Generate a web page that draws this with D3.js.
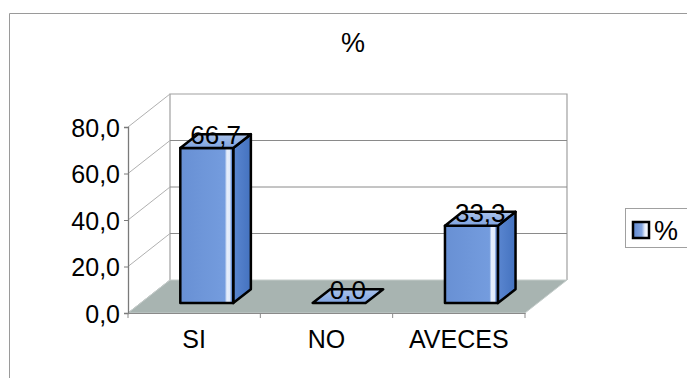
<!DOCTYPE html>
<html>
<head>
<meta charset="utf-8">
<script src="https://cdn.jsdelivr.net/npm/d3@7"></script>
<style>
  html, body { margin: 0; padding: 0; background: #fff; }
  svg { display: block; font-family: "Liberation Sans", Arial, sans-serif; }
</style>
</head>
<body>
<svg id="chart" width="687" height="378"></svg>
<script>
const categories = ["SI", "NO", "AVECES"];
const values = [66.7, 0.0, 33.3];
const yTicks = [0, 20, 40, 60, 80];
const seriesName = "%";
const chartTitle = "%";

const svg = d3.select("#chart");
const fmt = v => d3.format(".1f")(v).replace(".", ",");

const y = d3.scaleLinear().domain([0, 80]).range([313, 127]);
const x = d3.scaleBand().domain(categories).range([128, 525])
  .paddingInner(0.6).paddingOuter(0.3);
const D = { dx: 42, dy: -33 };           // full depth of the 3D box
const f0 = 0.3, f1 = 0.72;               // bar depth start / end fractions

// gradients
const defs = svg.append("defs");
const gFront = defs.append("linearGradient").attr("id", "gFront");
[["0%", "#6890d4"], ["84%", "#749cde"], ["88%", "#e6eefb"], ["94%", "#dfe9fa"], ["96%", "#6f95d8"]]
  .forEach(s => gFront.append("stop").attr("offset", s[0]).attr("stop-color", s[1]));
const gSide = defs.append("linearGradient").attr("id", "gSide");
[["0%", "#5a86d0"], ["100%", "#4472bf"]]
  .forEach(s => gSide.append("stop").attr("offset", s[0]).attr("stop-color", s[1]));
const gTop = defs.append("linearGradient").attr("id", "gTop").attr("x1", 0).attr("y1", 1).attr("x2", 0).attr("y2", 0);
[["0%", "#7fa3e0"], ["100%", "#a9c2ea"]]
  .forEach(s => gTop.append("stop").attr("offset", s[0]).attr("stop-color", s[1]));
const gLeg = defs.append("linearGradient").attr("id", "gLeg");
[["0%", "#5f87cf"], ["55%", "#86a7e0"], ["75%", "#e8eefa"], ["100%", "#ffffff"]]
  .forEach(s => gLeg.append("stop").attr("offset", s[0]).attr("stop-color", s[1]));

// outer chart border
svg.append("path").attr("d", "M9.5,378 L9.5,13.5 L687,13.5")
  .attr("fill", "none").attr("stroke", "#9a9a9a").attr("stroke-width", 1);

// title
svg.append("text").attr("x", 353).attr("y", 52).attr("text-anchor", "middle")
  .attr("font-size", 27).attr("fill", "#000").text(chartTitle);

const x0 = x.range()[0], x1 = x.range()[1];
const yTop = y(80), yBase = y(0);

// back wall and side wall
svg.append("path")
  .attr("d", `M${x0 + D.dx},${yBase + D.dy} L${x0 + D.dx},${yTop + D.dy} L${x1 + D.dx},${yTop + D.dy} L${x1 + D.dx},${yBase + D.dy}`)
  .attr("fill", "#fff").attr("stroke", "#a0a0a0").attr("stroke-width", 1.2);

const grid = svg.append("g").attr("stroke", "#8a8a8a").attr("stroke-width", 1).attr("fill", "none");
yTicks.forEach(t => {
  grid.append("line").attr("x1", x0).attr("y1", y(t)).attr("x2", x0 + D.dx).attr("y2", y(t) + D.dy)
    .attr("stroke", "#b0b0b0");
  if (t > 0 && t < 80) {
    grid.append("line").attr("x1", x0 + D.dx).attr("y1", y(t) + D.dy).attr("x2", x1 + D.dx).attr("y2", y(t) + D.dy);
  }
});

// floor
svg.append("path")
  .attr("d", `M${x0},${yBase} L${x1},${yBase} L${x1 + D.dx},${yBase + D.dy} L${x0 + D.dx},${yBase + D.dy} Z`)
  .attr("fill", "#a8b4b1").attr("stroke", "#c4ccca").attr("stroke-width", 1);

// y axis
const yAxis = svg.append("g").attr("transform", `translate(${x0},0)`)
  .call(d3.axisLeft(y).tickValues(yTicks).tickFormat(fmt).tickSize(4).tickPadding(4));
yAxis.select(".domain").attr("stroke", "#7a7a7a").attr("stroke-width", 1.3);
yAxis.selectAll(".tick line").attr("stroke", "#7a7a7a");
yAxis.selectAll(".tick text").attr("font-size", 25).attr("fill", "#000")
  .attr("font-family", "'Liberation Sans', Arial, sans-serif").attr("dy", "0.36em");

// x axis
const xAxis = svg.append("g").attr("transform", `translate(0,${yBase})`)
  .call(d3.axisBottom(x).tickSize(0).tickPadding(0));
xAxis.select(".domain").attr("stroke", "#8a8a8a").attr("stroke-width", 1.2);
xAxis.selectAll(".tick text").attr("font-size", 25).attr("fill", "#000")
  .attr("font-family", "'Liberation Sans', Arial, sans-serif").attr("y", 35).attr("dy", 0);
const step = (x1 - x0) / categories.length;
d3.range(categories.length + 1).forEach(i => {
  xAxis.append("line").attr("x1", x0 + i * step).attr("x2", x0 + i * step)
    .attr("y1", 0).attr("y2", 5).attr("stroke", "#8a8a8a");
});

// bars
const bars = svg.append("g");
const fdx = D.dx * f0, fdy = D.dy * f0;
const bdx = D.dx * (f1 - f0), bdy = D.dy * (f1 - f0);
categories.forEach((c, i) => {
  const v = values[i];
  const bx0 = x(c) + fdx, bx1 = bx0 + x.bandwidth();
  const yt = y(v) + fdy, yb = y(0) + fdy;
  const g = bars.append("g").attr("stroke", "#000").attr("stroke-width", 2.5).attr("stroke-linejoin", "round");
  if (yb - yt > 0.5) {
    g.append("path").attr("d", `M${bx1},${yt} L${bx1 + bdx},${yt + bdy} L${bx1 + bdx},${yb + bdy} L${bx1},${yb} Z`)
      .attr("fill", "url(#gSide)");
    g.append("rect").attr("x", bx0).attr("y", yt).attr("width", bx1 - bx0).attr("height", yb - yt)
      .attr("fill", "url(#gFront)");
  }
  g.append("path").attr("d", `M${bx0},${yt} L${bx1},${yt} L${bx1 + bdx},${yt + bdy} L${bx0 + bdx},${yt + bdy} Z`)
    .attr("fill", "url(#gTop)");
  svg.append("text").attr("x", (bx0 + bx1) / 2 + bdx / 2).attr("y", yt + bdy / 2 + 3)
    .attr("text-anchor", "middle").attr("font-size", 26).attr("fill", "#000").text(fmt(v));
});

// legend
const leg = svg.append("g");
leg.append("rect").attr("x", 625.5).attr("y", 208.5).attr("width", 70).attr("height", 39)
  .attr("fill", "#fff").attr("stroke", "#a0a0a0");
leg.append("rect").attr("x", 633).attr("y", 222).attr("width", 16).attr("height", 16)
  .attr("fill", "url(#gLeg)").attr("stroke", "#000").attr("stroke-width", 2.5);
leg.append("text").attr("x", 654).attr("y", 240).attr("font-size", 27).attr("fill", "#000").text(seriesName);
</script>
</body>
</html>
